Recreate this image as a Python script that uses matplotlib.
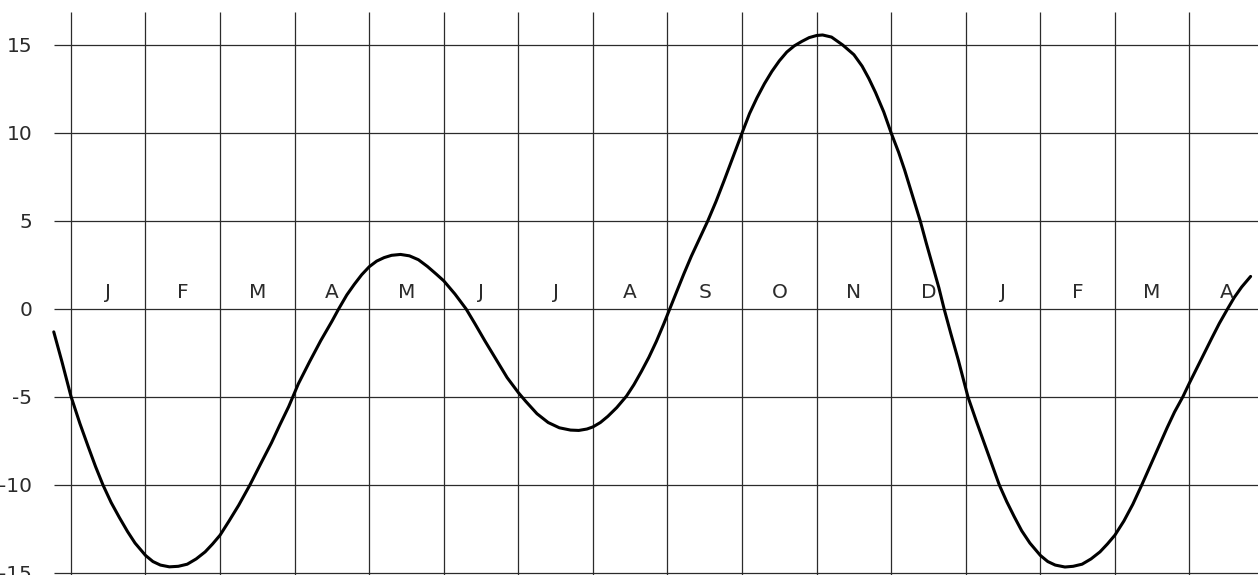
import matplotlib
matplotlib.use('Agg')
import matplotlib.pyplot as plt
import numpy as np

# ==========================================
# data
# ==========================================
month_labels = ['J', 'F', 'M', 'A', 'M', 'J', 'J', 'A', 'S', 'O', 'N', 'D', 'J', 'F', 'M', 'A']
y_ticks = [15, 10, 5, 0, -5, -10, -15]

# x = months counted from the first January line, y = value
curve_month = [-0.23, -0.12, 0.0, 0.12, 0.23, 0.33, 0.43, 0.54, 0.65, 0.76, 0.86, 1.0,
               1.1, 1.2, 1.32, 1.44, 1.56, 1.68, 1.8, 1.9, 2.0, 2.12, 2.25, 2.4,
               2.55, 2.69, 2.8, 2.92, 3.05, 3.2, 3.35, 3.5, 3.59, 3.7, 3.8, 3.9,
               4.0, 4.1, 4.2, 4.3, 4.42, 4.54, 4.66, 4.78, 4.9, 5.0, 5.15, 5.3,
               5.42, 5.55, 5.7, 5.85, 6.0, 6.1, 6.25, 6.4, 6.55, 6.7, 6.81, 6.92,
               7.0, 7.1, 7.2, 7.32, 7.45, 7.55, 7.65, 7.75, 7.85, 7.95, 8.03, 8.12,
               8.22, 8.32, 8.43, 8.54, 8.65, 8.76, 8.88, 9.0, 9.1, 9.2, 9.3, 9.4,
               9.5, 9.6, 9.7, 9.8, 9.9, 10.0, 10.08, 10.2, 10.35, 10.5, 10.61, 10.7,
               10.79, 10.9, 11.0, 11.1, 11.18, 11.3, 11.39, 11.47, 11.56, 11.64, 11.71, 11.8,
               11.9, 12.03, 12.14, 12.25, 12.35, 12.45, 12.55, 12.65, 12.75, 12.86, 13.0, 13.1,
               13.2, 13.33, 13.44, 13.56, 13.68, 13.8, 13.9, 14.0, 14.12, 14.24, 14.36, 14.48,
               14.6, 14.7, 14.8, 14.91, 15.0, 15.1, 15.2, 15.3, 15.4, 15.51, 15.6, 15.7,
               15.82]
curve_value = [-1.3, -3.0, -4.95, -6.5, -7.8, -8.95, -10.0, -11.0, -11.85, -12.65, -13.3, -14.0,
               -14.35, -14.55, -14.65, -14.62, -14.5, -14.2, -13.8, -13.35, -12.85, -12.05, -11.15, -10.0,
               -8.75, -7.6, -6.6, -5.55, -4.25, -3.0, -1.8, -0.7, 0.0, 0.8, 1.4, 1.95,
               2.4, 2.72, 2.92, 3.05, 3.1, 3.02, 2.8, 2.42, 1.98, 1.6, 0.85, 0.0,
               -0.85, -1.8, -2.85, -3.9, -4.75, -5.25, -5.95, -6.45, -6.75, -6.88, -6.9, -6.82,
               -6.7, -6.45, -6.1, -5.6, -4.95, -4.3, -3.55, -2.75, -1.85, -0.85, 0.0, 0.95,
               2.0, 3.0, 4.0, 5.0, 6.1, 7.3, 8.65, 10.0, 11.1, 12.0, 12.8, 13.5,
               14.1, 14.6, 14.95, 15.2, 15.42, 15.54, 15.57, 15.45, 15.0, 14.45, 13.8, 13.1,
               12.3, 11.2, 10.0, 8.9, 7.9, 6.25, 5.0, 3.75, 2.4, 1.2, 0.0, -1.4,
               -2.9, -5.0, -6.35, -7.65, -8.85, -10.0, -10.95, -11.8, -12.6, -13.3, -14.0, -14.35,
               -14.55, -14.66, -14.62, -14.5, -14.2, -13.8, -13.35, -12.85, -12.05, -11.1, -10.0, -8.85,
               -7.7, -6.75, -5.85, -5.0, -4.2, -3.35, -2.5, -1.65, -0.82, 0.0, 0.65, 1.25,
               1.85]

ink = '#2b2b2b'
fs = 14.5
lettering = dict(fontsize=fs, color=ink, family='DejaVu Sans')

fig = plt.figure(figsize=(12.58, 5.75), dpi=100)
ax = fig.add_axes([0, 0, 1, 1])
ax.set_xlim(-0.951, 15.919)
ax.set_ylim(-15.114, 17.557)
ax.axis('off')

# grid: horizontal value lines and vertical month boundaries
ax.hlines(y_ticks, -0.227, 16, color=ink, linewidth=0.9)
ax.vlines(np.arange(len(month_labels)), -15.2, 16.9, color=ink, linewidth=0.9)

# month letters centred in each month, just above zero
for i, lab in enumerate(month_labels):
    ax.text(i + 0.5, 0.62, lab, ha='center', va='baseline', **lettering)

# value labels on the left (the -15 is cut by the bottom edge, as in the original)
for v in y_ticks:
    ax.text(-0.52, v - 0.4, str(v), ha='right', va='baseline', **lettering)

ax.plot(curve_month, curve_value, color='black', linewidth=2.2,
        solid_capstyle='round', solid_joinstyle='round')

fig.savefig('out.png', dpi=100, facecolor='white')
